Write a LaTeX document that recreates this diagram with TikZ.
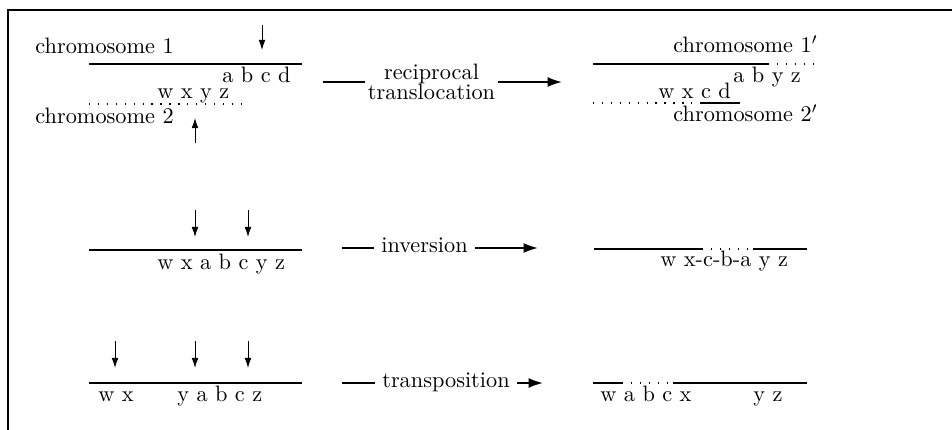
\documentclass[tikz,border=0pt]{standalone}
\usepackage{amsmath}
\usetikzlibrary{arrows.meta}
\tikzset{
  chrom/.style={line width=.5pt},
  dotseg/.style={line width=.6pt,dash pattern=on .6pt off 3.4pt},
  cut/.style={line width=.4pt,-{Latex[length=4.5pt,width=3pt]}},
  mainline/.style={line width=.8pt},
  mainarrow/.style={line width=.8pt,-{Latex[length=6.5pt,width=4.5pt]}},
  seq/.style={anchor=base west,inner sep=0pt},
}
\begin{document}
\begin{tikzpicture}[x=.1576cm,y=.1576cm,line width=.35pt]
\useasboundingbox (0,0) rectangle (95.2,43);
\draw[line width=.8pt] (0.8,0)--(0.8,42)--(95.2,42);
% reciprocal translocation
\node[seq] (chromA) at (3.5,37.6) {chromosome 1};
\draw[chrom] (8.9,36.6)--(30.2,36.6);
\draw[cut] (26.2,40.5)--(26.2,38.0);
\node[seq] (abcd) at (22.2,34.75) {a b c d};
\node[seq] (wxyz) at (15.7,33.1) {w x y z};
\draw[dotseg] (8.9,32.6)--(24.5,32.6);
\node[seq] (chromB) at (3.5,30.6) {chromosome 2};
\draw[cut] (19.5,28.7)--(19.5,31.2);
\node[align=center,inner sep=1pt] (recip) at (43.15,34.8) {reciprocal\\[-3pt]translocation};
\coordinate (recipL) at (32.3,34.8);
\coordinate (recipR) at (56.2,34.8);
\draw[mainline] (recipL)--(recip);
\draw[mainarrow] (recip)--(recipR);
\node[seq] (chromAp) at (67.3,37.7) {chromosome $1'$};
\draw[chrom] (59.3,36.6)--(76.8,36.6);
\draw[dotseg] (76.8,36.6)--(81.8,36.6);
\node[seq] (abyz) at (73.3,34.7) {a b y z};
\node[seq] (wxcd) at (65.8,33.1) {w x c d};
\draw[dotseg] (59.3,32.7)--(69.2,32.7);
\draw[chrom] (70.0,32.7)--(74.0,32.7);
\node[seq] (chromBp) at (67.3,30.8) {chromosome $2'$};
% inversion
\draw[cut] (19.5,22.0)--(19.5,19.3);
\draw[cut] (24.8,22.0)--(24.8,19.3);
\draw[chrom] (8.9,18.0)--(30.2,18.0);
\node[seq] (invseq) at (15.7,16.0) {w x a b c y z};
\node[anchor=mid] (inv) at (42.45,18.2) {inversion};
\coordinate (invL) at (34.2,18.2);
\coordinate (invR) at (53.8,18.2);
\draw[mainline] (invL)--(inv.mid west);
\draw[mainarrow] (inv.mid east)--(invR);
\draw[chrom] (59.4,18.1)--(70.2,18.1);
\draw[dotseg] (70.2,18.1)--(75.3,18.1);
\draw[chrom] (75.3,18.1)--(80.7,18.1);
\node[seq] (invres) at (66.0,16.3) {w x-c-b-a y z};
% transposition
\draw[cut] (11.5,8.9)--(11.5,6.2);
\draw[cut] (19.5,8.9)--(19.5,6.2);
\draw[cut] (24.8,8.9)--(24.8,6.2);
\draw[chrom] (8.9,4.7)--(30.2,4.7);
\node[seq] (trwx) at (9.8,2.8) {w x};
\node[seq] (trya) at (17.7,2.8) {y a b c z};
\node[anchor=mid] (trans) at (44.6,4.7) {transposition};
\coordinate (transL) at (34.2,4.7);
\coordinate (transR) at (54.3,4.7);
\draw[mainline] (transL)--(trans.mid west);
\draw[mainarrow] (trans.mid east)--(transR);
\draw[chrom] (59.3,4.7)--(62.2,4.7);
\draw[dotseg] (62.2,4.7)--(67.3,4.7);
\draw[chrom] (67.3,4.7)--(80.7,4.7);
\node[seq] (trwa) at (60.0,2.8) {w a b c x};
\node[seq] (tryz) at (75.3,2.8) {y z};
\end{tikzpicture}
\end{document}
